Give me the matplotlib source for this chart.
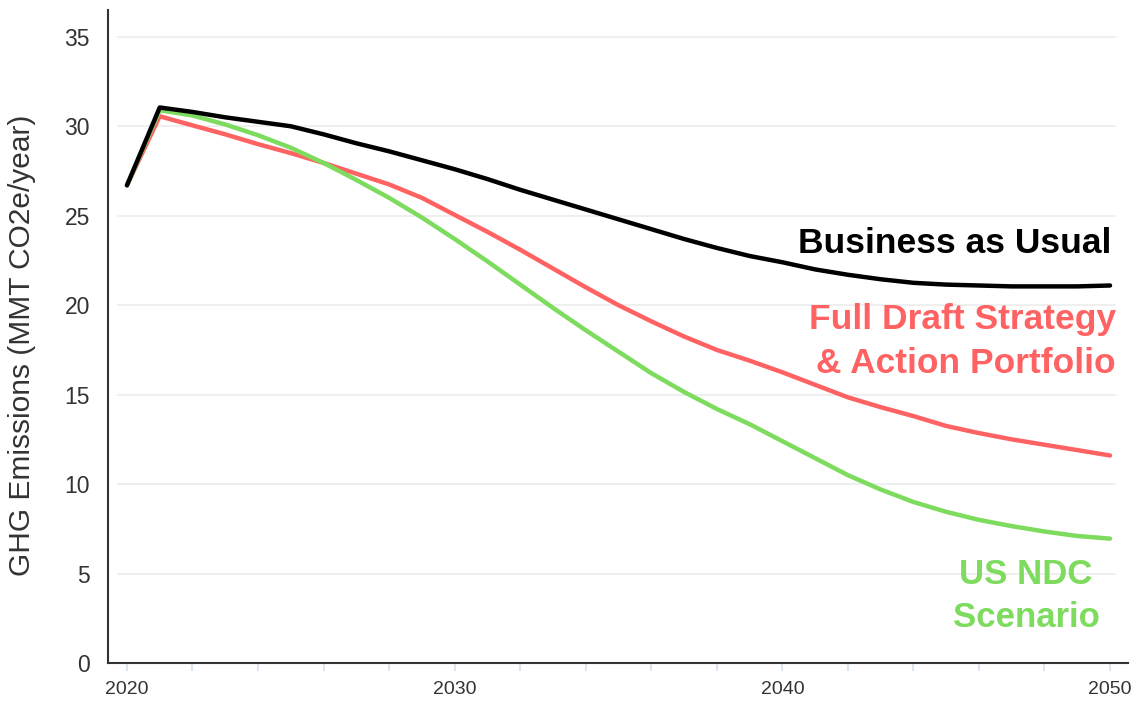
import numpy as np
import matplotlib
matplotlib.use("Agg")
import matplotlib.pyplot as plt

plt.rcParams['font.family'] = ['Liberation Sans', 'DejaVu Sans']

years = list(range(2020, 2051))

bau = [26.7, 31.05, 30.8, 30.5, 30.25, 30.0, 29.55, 29.05, 28.6, 28.1,
       27.6, 27.05, 26.45, 25.9, 25.35, 24.8, 24.25, 23.7, 23.2, 22.75,
       22.4, 22.0, 21.7, 21.45, 21.25, 21.15, 21.1, 21.05, 21.05, 21.05,
       21.1]

draft = [26.7, 30.56, 30.05, 29.55, 29.0, 28.5, 27.95, 27.35, 26.75, 26.0,
         25.05, 24.1, 23.1, 22.05, 21.0, 20.0, 19.1, 18.25, 17.5, 16.9,
         16.25, 15.55, 14.85, 14.3, 13.8, 13.25, 12.85, 12.5, 12.2, 11.9,
         11.6]

ndc = [26.7, 30.9, 30.6, 30.1, 29.5, 28.8, 27.95, 27.0, 26.0, 24.9,
       23.7, 22.45, 21.15, 19.85, 18.6, 17.4, 16.2, 15.15, 14.2, 13.35,
       12.4, 11.45, 10.5, 9.7, 9.0, 8.45, 8.0, 7.65, 7.35, 7.1,
       6.95]

y_ticks = [0, 5, 10, 15, 20, 25, 30, 35]
x_ticks = list(range(2020, 2051, 2))
x_labels = [str(y) if y % 10 == 0 else '' for y in x_ticks]

black = '#000000'
red = '#ff6262'
green = '#7ddb5d'

fig = plt.figure(figsize=(11.4, 7.03), dpi=100)
ax = fig.add_axes([0.0947, 0.0569, 0.8948, 0.9289])

for t in y_ticks:
    ax.axhline(t, xmin=0.01, xmax=0.987, color='#ececec', lw=1.2, zorder=0)

ax.plot(years, ndc, color=green, lw=3.2, solid_capstyle='round', solid_joinstyle='round', zorder=3)
ax.plot(years, draft, color=red, lw=3.2, solid_capstyle='round', solid_joinstyle='round', zorder=2)
ax.plot(years, bau, color=black, lw=3.2, solid_capstyle='round', solid_joinstyle='round', zorder=4)

ax.set_xlim(2019.42, 2050.55)
ax.set_ylim(0.1, 36.5)

ax.set_yticks(y_ticks)
ax.set_xticks(x_ticks)
ax.set_xticklabels(x_labels)
ax.tick_params(axis='y', length=0, pad=13, labelsize=16.5, labelcolor='#333333')
ax.tick_params(axis='x', length=6, width=1.5, color='#dde5f0', pad=7,
               labelsize=14, labelcolor='#333333')

for s in ['top', 'right']:
    ax.spines[s].set_visible(False)
ax.spines['left'].set_color('#333333')
ax.spines['bottom'].set_color('#333333')
ax.spines['left'].set_linewidth(1.5)
ax.spines['bottom'].set_linewidth(1.5)

ax.set_ylabel('GHG Emissions (MMT CO2e/year)', fontsize=21.5, color='#333333')
ax.yaxis.set_label_coords(-0.0706, 0.487)

# series labels
ax.text(2050.03, 23.45, 'Business as Usual', color=black, fontsize=25.5,
        fontweight='bold', ha='right', va='center')
ax.text(2050.18, 17.95, 'Full Draft Strategy\n& Action Portfolio', color=red,
        fontsize=25.5, fontweight='bold', ha='right', va='center',
        linespacing=1.42, multialignment='right')
ax.text(2047.44, 3.75, 'US NDC\nScenario', color=green, fontsize=25,
        fontweight='bold', ha='center', va='center', linespacing=1.38)

fig.savefig('out.png', dpi=100)
